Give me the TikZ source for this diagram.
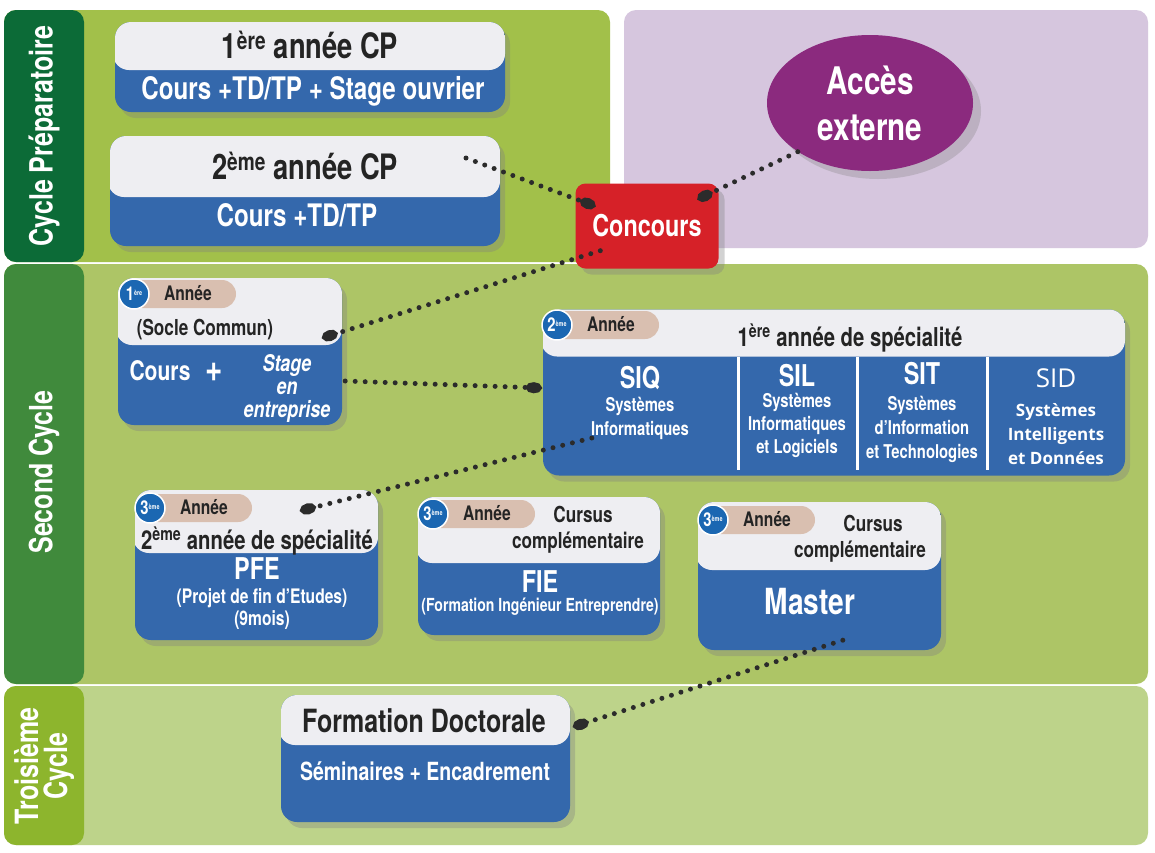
\documentclass[tikz,border=0pt]{standalone}
\usepackage{fontspec}
\setmainfont{TeX Gyre Heros}[FakeStretch=0.78]
\newfontfamily\openfont{Open Sans}
\usetikzlibrary{shapes.geometric,shadows,arrows.meta,positioning,calc}

\definecolor{prepbar}{HTML}{0C6B37}
\definecolor{prepg}{HTML}{A2C04A}
\definecolor{extp}{HTML}{D6C6DE}
\definecolor{secbar}{HTML}{408A3C}
\definecolor{secg}{HTML}{ADC566}
\definecolor{thirdbar}{HTML}{8DB52D}
\definecolor{thirdg}{HTML}{BDD38A}
\definecolor{cardblue}{HTML}{3468AC}
\definecolor{cardwhite}{HTML}{EEEEF2}
\definecolor{ink}{HTML}{242424}
\definecolor{concr}{HTML}{D62128}
\definecolor{accp}{HTML}{8B2A7E}
\definecolor{pillc}{HTML}{D9BFB0}
\definecolor{badgeb}{HTML}{1B67B2}
\definecolor{dotc}{HTML}{2B2B2B}

\newcommand\fs[2]{\fontsize{#1}{#2}\selectfont\bfseries}

\tikzset{
  card/.style={fill=cardblue, rounded corners=16pt, inner sep=0pt,
    drop shadow={shadow xshift=5pt, shadow yshift=-6pt, opacity=.35}},
  whitetop/.style={path picture={\fill[cardwhite]
    ([shift={(-2,-2)}]path picture bounding box.north west) rectangle
    ([yshift=-#1pt]path picture bounding box.north east);}},
  hd/.style={text=ink, inner sep=0pt, align=center},
  wt/.style={text=white, inner sep=0pt, align=center},
  barlabel/.style={text=white, rotate=90, align=center, font=\fs{32}{29}},
  badge/.style={circle, fill=badgeb, draw=white, line width=1.5pt, text=white,
    inner sep=0pt, minimum size=30pt, font=\fs{19}{19}},
  dotline/.style={draw=dotc, line width=5pt, line cap=round,
    dash pattern=on 0pt off 10pt, -{Ellipse[length=16pt,width=11pt]}},
}

% year badge: name, x, y, digit, superscript
\newcommand\badge[5]{%
  \fill[pillc, rounded corners=14pt] (#2-6,#3-14) rectangle (#2+102,#3+14);
  \node[badge] (#1) at (#2,#3) {#4\raisebox{5pt}{\fontsize{7}{7}\selectfont #5}};
  \node[hd, font=\fs{20}{20}] (#1a) at (#2+54,#3-1) {Année};
}

\begin{document}
\begin{tikzpicture}[x=1pt,y=-1pt]
  \useasboundingbox (0,0) rectangle (1155,852);
  \fill[white] (0,0) rectangle (1155,852);

  % Cycle panels
  \fill[prepg, rounded corners=12pt] (4,10) rectangle (610,262);
  \fill[extp, rounded corners=12pt] (624,10) rectangle (1148,248);
  \fill[secg, rounded corners=12pt] (4,264) rectangle (1148,684);
  \fill[thirdg, rounded corners=12pt] (4,686) rectangle (1148,845);
  \fill[prepbar, rounded corners=12pt] (4,10) rectangle (84,262);
  \fill[secbar, rounded corners=12pt] (4,264) rectangle (84,684);
  \fill[thirdbar, rounded corners=12pt] (4,686) rectangle (84,845);
  \node[barlabel] (lprep) at (44,136) {Cycle Préparatoire};
  \node[barlabel] (lsec) at (44,472) {Second Cycle};
  \node[barlabel] (lthird) at (44,766) {Troisième\\Cycle};

  % Cycle preparatoire
  \node[card, whitetop=48, minimum width=390, minimum height=90] (cp1) at (310,67) {};
  \node[hd, font=\fs{35}{35}] (cp1a) at (310,45) {1\textsuperscript{ère} année CP};
  \node[wt, font=\fs{31}{31}] (cp1b) at (313,91) {Cours +TD/TP + Stage ouvrier};
  \node[card, whitetop=61, minimum width=390, minimum height=110] (cp2) at (305,191) {};
  \node[hd, font=\fs{35}{35}] (cp2a) at (305,166) {2\textsuperscript{ème} année CP};
  \node[wt, font=\fs{31}{31}] (cp2b) at (297,215) {Cours +TD/TP};

  % Concours and external access
  \node[ellipse, fill=accp, minimum width=206, minimum height=136, text=white,
    align=center, font=\fs{38}{46},
    drop shadow={shadow xshift=8pt, shadow yshift=-8pt, opacity=.3}] (acc) at (870,103) {Accès\\externe};
  \node[fill=concr, rounded corners=10pt, minimum width=143, minimum height=85,
    text=white, font=\fs{30}{30},
    drop shadow={shadow xshift=6pt, shadow yshift=-6pt, opacity=.35}] (conc) at (647,226) {Concours};

  % Second cycle: 1ere annee
  \node[card, whitetop=67, minimum width=224, minimum height=147] (y1) at (230,351.5) {};
  \badge{b1}{134}{294}{1}{ère}
  \node[hd, font=\fs{22}{22}] (socle) at (205,330) {(Socle Commun)};
  \node[wt, font=\fs{27}{27}] (cours) at (160,371) {Cours};
  \node[wt, font=\fs{38}{38}] (plus) at (214,372) {+};
  \node[wt, font=\fs{23}{23}\itshape] (stage) at (287,388) {Stage\\en\\entreprise};

  % Second cycle: 2eme annee
  \node[card, whitetop=47, minimum width=582, minimum height=166] (y2) at (834,392.5) {};
  \badge{b2}{557}{325}{2}{ème}
  \node[hd, font=\fs{26}{26}] (spec1) at (850,338) {1\textsuperscript{ère} année de spécialité};
  \foreach \sx in {738,857,987}
    \draw[white, line width=3pt] (\sx,357) -- (\sx,470);
  \node[wt, font=\fs{30}{30}] (siq) at (640,378) {SIQ};
  \node[wt, font=\fs{19}{24}] (siqt) at (640,418) {Systèmes\\Informatiques};
  \node[wt, font=\fs{30}{30}] (sil) at (797,376) {SIL};
  \node[wt, font=\fs{19}{23}] (silt) at (797,425) {Systèmes\\Informatiques\\et Logiciels};
  \node[wt, font=\fs{30}{30}] (sit) at (922,374) {SIT};
  \node[wt, font=\fs{19}{24}] (sitt) at (922,429) {Systèmes\\d’Information\\et Technologies};
  \node[wt, font=\openfont\fontsize{26}{26}\selectfont] (sid) at (1056,378) {SID};
  \node[wt, font=\openfont\fontsize{17}{24}\selectfont\bfseries] (sidt) at (1056,434) {Systèmes\\Intelligents\\et Données};

  % Second cycle: 3eme annee
  \node[card, whitetop=63, minimum width=243, minimum height=150] (pfe) at (256.5,565) {};
  \badge{b3}{150}{508}{3}{ème}
  \node[hd, font=\fs{26}{26}] (spec2) at (257,541) {2\textsuperscript{ème} année de spécialité};
  \node[wt, font=\fs{30}{30}] (pfea) at (257,569) {PFE};
  \node[wt, font=\fs{20}{22}] (pfeb) at (262,609) {(Projet de fin d’Etudes)\\(9mois)};

  \node[card, whitetop=66, minimum width=242, minimum height=138] (fie) at (539,566) {};
  \badge{b4}{433}{514}{3}{ème}
  \node[hd, font=\fs{22}{26}] (fiec) at (578,530) {\hspace*{10pt}Cursus\\complémentaire};
  \node[wt, font=\fs{30}{30}] (fiea) at (540,582) {FIE};
  \node[wt, font=\fs{18}{18}] (fieb) at (540,607) {(Formation Ingénieur Entreprendre)};

  \node[card, whitetop=68, minimum width=243, minimum height=148] (mas) at (819.5,576) {};
  \badge{b5}{713}{520}{3}{ème}
  \node[hd, font=\fs{22}{26}] (masc) at (860,539) {\hspace*{26pt}Cursus\\complémentaire};
  \node[wt, font=\fs{36}{36}] (masa) at (810,602) {Master};

  % Troisieme cycle
  \node[card, whitetop=50, minimum width=289, minimum height=127] (fd) at (425.5,758.5) {};
  \node[hd, font=\fs{32}{32}] (fda) at (424,721) {Formation Doctorale};
  \node[wt, font=\fs{25}{25}] (fdb) at (425,771) {Séminaires + Encadrement};

  % Dotted links
  \coordinate (s1) at (466,158);
  \coordinate (t1) at ($(conc.north west)+(20,23)$);
  \coordinate (s2) at (acc.214);
  \coordinate (t2) at ($(conc.north east)+(-21,16)$);
  \coordinate (s3) at ($(conc.south west)+(25,-18)$);
  \coordinate (t3) at ($(y1.east)+(-20,-13.5)$);
  \coordinate (s4) at ($(y1.east)+(3,29.5)$);
  \coordinate (t4) at ($(y2.west)+(-1,-4.5)$);
  \coordinate (s5) at ($(y2.west)+(49,45.5)$);
  \coordinate (t5) at ($(pfe.north east)+(-78,21)$);
  \coordinate (s6) at ($(mas.south west)+(145,-10)$);
  \coordinate (t6) at ($(fd.north east)+(3,32)$);
  \foreach \k in {1,...,6}
    \draw[dotline] (s\k) -- (t\k);
\end{tikzpicture}
\end{document}
